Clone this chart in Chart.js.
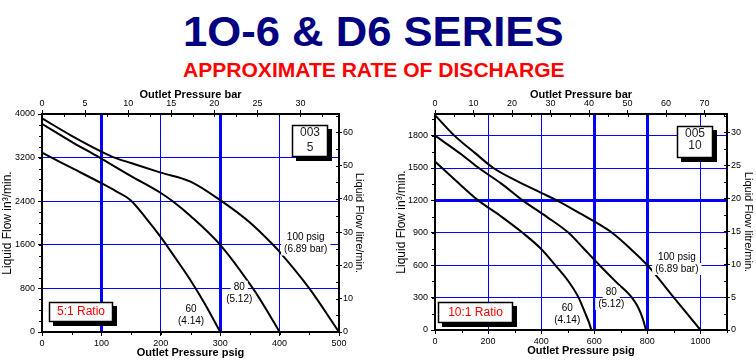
<!DOCTYPE html>
<html><head><meta charset="utf-8">
<script src="https://cdn.jsdelivr.net/npm/chart.js@4/dist/chart.umd.min.js"></script>
<style>
html,body{margin:0;padding:0;background:#fff;width:756px;height:364px;overflow:hidden;position:relative;font-family:"Liberation Sans",Arial,sans-serif;}
.ttl{position:absolute;white-space:nowrap;transform-origin:0 0;}
#t1{left:183px;top:11px;font-size:42px;line-height:42px;font-weight:bold;color:#000080;}
#t2{left:183px;top:60px;font-size:20px;line-height:20px;font-weight:bold;color:#ff0000;}
.cw{position:absolute;top:84px;width:378px;height:280px;}
</style></head><body>
<div id="t1" class="ttl">1O-6 &amp; D6 SERIES</div>
<div id="t2" class="ttl">APPROXIMATE RATE OF DISCHARGE</div>
<div class="cw" style="left:0"><canvas id="c1"></canvas></div>
<div class="cw" style="left:378px"><canvas id="c2"></canvas></div>
<script>
// ---------- data ----------
const PSI_PER_BAR = 14.5038;
const IN3_PER_LITRE = 61.0237;

// Left chart: pump 003, 5:1 ratio (x = outlet pressure psig, y = liquid flow in3/min)
const leftPsig100 = [0, 50, 100, 122, 150, 200, 250, 300, 350, 389, 400, 450, 500];
const leftFlow100 = [3920, 3600, 3310, 3200, 3100, 2925, 2760, 2420, 2010, 1600, 1470, 800, 0];
const leftPsig80  = [0, 50, 97, 150, 200, 220, 250, 300, 355, 375, 400];
const leftFlow80  = [3820, 3490, 3200, 2860, 2550, 2400, 2130, 1600, 800, 460, 0];
const leftPsig60  = [0, 50, 100, 125, 150, 175, 200, 225, 250, 275, 300];
const leftFlow60  = [3290, 3010, 2730, 2580, 2410, 2090, 1740, 1350, 950, 500, 0];

// Right chart: pump 005, 10:1 ratio
const rightPsig100 = [0, 73, 150, 220, 300, 400, 459, 550, 600, 667, 733, 800, 900, 1000];
const rightFlow100 = [1990, 1800, 1640, 1500, 1390, 1270, 1200, 1075, 1005, 900, 760, 600, 300, 0];
const rightPsig80  = [0, 100, 165, 250, 330, 420, 503, 560, 620, 680, 742, 765, 782, 795];
const rightFlow80  = [1800, 1625, 1500, 1355, 1200, 1050, 900, 755, 600, 450, 300, 210, 110, 0];
const rightPsig60  = [0, 80, 163, 250, 330, 400, 453, 500, 541, 565, 580, 589];
const rightFlow60  = [1560, 1380, 1200, 1050, 900, 750, 600, 460, 300, 160, 70, 0];

// axis tick settings (values)
const leftXMax = 500, leftXStep = 100, leftYMax = 4000, leftYStep = 800;
const rightXMax = 1100, rightXStep = 200, rightYMax = 2000, rightYStep = 300;
const leftBarStep = 5, rightBarStep = 10, leftLitreStep = 10, rightLitreStep = 5;

const curveNames = ['100 psig', '80', '60'];
const curveSubs = ['(6.89 bar)', '(5.12)', '(4.14)'];

// ---------- fit titles ----------
function fitWidth(id, w){ const el=document.getElementById(id); el.style.transform='scaleX('+(w/el.offsetWidth)+')'; }
fitWidth('t1', 380); fitWidth('t2', 382);

Chart.defaults.font.family = "'Liberation Sans', Arial, sans-serif";
Chart.defaults.color = '#000';

function pts(xs, ys){ return xs.map((x,i)=>({x:x, y:ys[i]})); }

const decor = {
  id:'decor',
  afterDraw(chart, args, o){
    const ctx = chart.ctx, a = chart.chartArea;
    ctx.save();
    ctx.strokeStyle = '#000'; ctx.lineWidth = 1;
    (o.minor||[]).forEach(m=>{
      const s = chart.scales[m.id];
      const d = m.len; // positive = outward, negative = inward
      for (let i=0;;i++){
        const v = i*m.step; if (v > s.max + 1e-9) break;
        const p = Math.round(s.getPixelForValue(v)) + 0.5;
        ctx.beginPath();
        if (m.id==='x'){ ctx.moveTo(p, a.bottom); ctx.lineTo(p, a.bottom+d); }
        else if (m.id==='x2'){ ctx.moveTo(p, a.top); ctx.lineTo(p, a.top-d); }
        else if (m.id==='y'){ ctx.moveTo(a.left, p); ctx.lineTo(a.left-d, p); }
        else { ctx.moveTo(a.right, p); ctx.lineTo(a.right+d, p); }
        ctx.stroke();
      }
    });
    ctx.font = "10px 'Liberation Sans', Arial, sans-serif";
    ctx.textAlign='center'; ctx.textBaseline='middle';
    (o.labels||[]).forEach(l=>{
      const cx = chart.scales.x.getPixelForValue(l.x), cy = chart.scales.y.getPixelForValue(l.y);
      l.lines.forEach((t,i)=>{
        const w = ctx.measureText(t).width;
        const yy = cy + i*12;
        ctx.fillStyle='#fff'; ctx.fillRect(cx - w/2 - 3, yy - 6, w + 6, 12);
        ctx.fillStyle='#000'; ctx.fillText(t, cx, yy);
      });
    });
    (o.boxes||[]).forEach(b=>{
      const x0 = b.fromRight ? a.right - b.dx : a.left + b.dx;
      const y0 = b.fromBottom ? a.bottom - b.dy : a.top + b.dy;
      ctx.fillStyle='#000'; ctx.fillRect(x0+4, y0+4, b.w, b.h);
      ctx.fillStyle='#fff'; ctx.fillRect(x0, y0, b.w, b.h);
      ctx.strokeStyle='#000'; ctx.lineWidth=1.5; ctx.strokeRect(x0+0.5, y0+0.5, b.w-1, b.h-1);
      ctx.fillStyle=b.color; ctx.font = b.size+"px 'Liberation Sans', Arial, sans-serif";
      ctx.textAlign='center'; ctx.textBaseline='middle';
      b.lines.forEach((t,i)=> ctx.fillText(t, x0 + b.w/2, y0 + b.ly[i]));
    });
    ctx.restore();
  }
};
Chart.register(decor);

function fmt(v){ return String(Math.round(v)); }

function makeChart(id, c){
  const ds = c.series.map(s=>({data: pts(s[0], s[1]), borderColor:'#000', borderWidth:2, pointRadius:0, fill:false, cubicInterpolationMode:'monotone'}));
  const gridCol = (max, thick) => ({
    color: ctx => (ctx.tick && (ctx.tick.value<=0 || ctx.tick.value>=max)) ? 'rgba(0,0,0,0)' : '#0000ff',
    lineWidth: ctx => (ctx.tick && thick.includes(ctx.tick.value)) ? 3 : 1,
    tickColor:'#000', tickLength:4, tickWidth:1
  });
  const tf = {size:9};
  return new Chart(document.getElementById(id), {
    type:'line',
    data:{datasets:ds},
    options:{
      responsive:true, maintainAspectRatio:false, animation:false,
      layout:{padding:0},
      plugins:{legend:{display:false}, tooltip:{enabled:false}, decor:c.decor},
      scales:{
        x:{type:'linear', position:'bottom', min:0, max:c.xMax,
           ticks:{stepSize:c.xStep, includeBounds:false, padding:2, font:tf, color:'#000', maxRotation:0, autoSkip:false, callback:fmt},
           grid:gridCol(c.xMax, c.xThick), border:{color:'#000', width:2},
           title:{display:true, text:'Outlet Pressure psig', font:{size:11, weight:'bold'}, color:'#000', padding:{top:0,bottom:c.xTitlePad}},
           afterFit:s=>{ s.height = c.bottomH; }},
        x2:{type:'linear', position:'top', min:0, max:c.xMax/PSI_PER_BAR,
           ticks:{stepSize:c.barStep, includeBounds:false, padding:1, font:tf, color:'#000', maxRotation:0, autoSkip:false, callback:fmt},
           grid:{drawOnChartArea:false, tickColor:'#000', tickLength:4}, border:{color:'#000', width:2},
           title:{display:true, text:'Outlet Pressure bar', font:{size:11, weight:'bold'}, color:'#000', padding:{top:4,bottom:0}},
           afterFit:s=>{ s.height = c.topH; }},
        y:{type:'linear', position:'left', min:0, max:c.yMax,
           ticks:{stepSize:c.yStep, includeBounds:false, padding:3, font:tf, color:'#000', autoSkip:false, callback:fmt},
           grid:gridCol(c.yMax, c.yThick), border:{color:'#000', width:2},
           title:{display:true, text:'Liquid Flow in³/min.', font:{size:12}, color:'#000', padding:{top:c.yTitlePad,bottom:0}},
           afterFit:s=>{ s.width = c.leftW; }},
        y2:{type:'linear', position:'right', min:0, max:c.yMax/IN3_PER_LITRE,
           ticks:{stepSize:c.litreStep, includeBounds:false, padding:1, font:tf, color:'#000', autoSkip:false, callback:fmt},
           grid:{drawOnChartArea:false, tickColor:'#000', tickLength:3}, border:{color:'#000', width:2},
           title:{display:true, text:'Liquid Flow litre/min.', font:{size:11}, color:'#000', padding:{top:c.y2TitlePad,bottom:0}},
           afterFit:s=>{ s.width = c.rightW; }}
      }
    }
  });
}

makeChart('c1', {
  series:[[leftPsig100,leftFlow100],[leftPsig80,leftFlow80],[leftPsig60,leftFlow60]],
  xMax:leftXMax, xStep:leftXStep, yMax:leftYMax, yStep:leftYStep, barStep:leftBarStep, litreStep:leftLitreStep,
  xThick:[100,300], yThick:[],
  leftW:42, rightW:39, topH:30, bottomH:32, xTitlePad:4, yTitlePad:0, y2TitlePad:12.5,
  decor:{
    minor:[{id:'x',step:50,len:3},{id:'y',step:200,len:3},{id:'y2',step:5,len:-3},{id:'x2',step:2.5,len:-3}],
    labels:[{x:444,y:1733,lines:[curveNames[0],curveSubs[0]]},{x:332,y:830,lines:[curveNames[1],curveSubs[1]]},{x:251,y:424,lines:[curveNames[2],curveSubs[2]]}],
    boxes:[{fromRight:true,dx:47,dy:11,w:36,h:32,lines:['003','5'],ly:[8,23],color:'#222',size:12},
           {fromBottom:true,dx:7,dy:30,w:64,h:20,lines:['5:1 Ratio'],ly:[10],color:'#ff0000',size:12}]
  }
});

makeChart('c2', {
  series:[[rightPsig100,rightFlow100],[rightPsig80,rightFlow80],[rightPsig60,rightFlow60]],
  xMax:rightXMax, xStep:rightXStep, yMax:rightYMax, yStep:rightYStep, barStep:rightBarStep, litreStep:rightLitreStep,
  xThick:[600,800], yThick:[1200],
  leftW:57, rightW:29, topH:30, bottomH:34, xTitlePad:6, yTitlePad:16, y2TitlePad:1.5,
  decor:{
    minor:[{id:'x',step:100,len:3},{id:'y',step:150,len:3},{id:'y2',step:2.5,len:-3},{id:'x2',step:5,len:-3}],
    labels:[{x:911,y:676,lines:[curveNames[0],curveSubs[0]]},{x:664,y:352,lines:[curveNames[1],curveSubs[1]]},{x:498,y:204,lines:[curveNames[2],curveSubs[2]]}],
    boxes:[{fromRight:true,dx:50,dy:12,w:36,h:32,lines:['005','10'],ly:[8,20],color:'#222',size:12},
           {fromBottom:true,dx:3,dy:28,w:75,h:21,lines:['10:1 Ratio'],ly:[10.5],color:'#ff0000',size:12}]
  }
});
</script>
</body></html>
